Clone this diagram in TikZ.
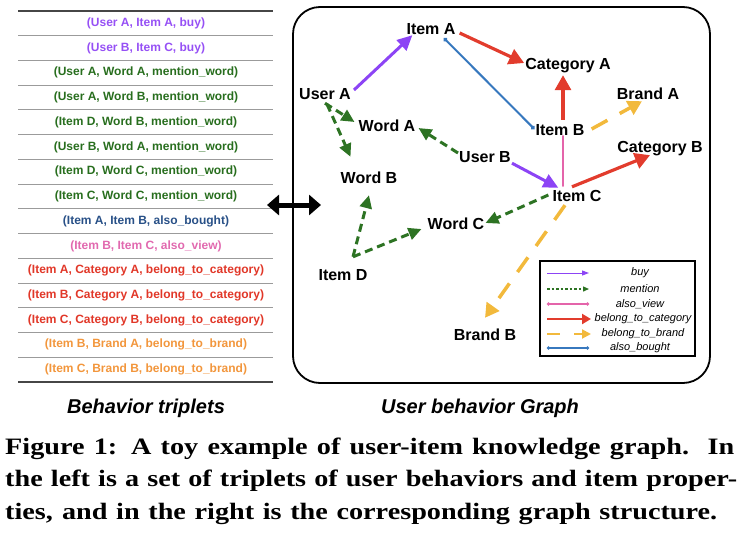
\documentclass[tikz,border=0pt]{standalone}
\usepackage{fontspec}
\setmainfont{Liberation Serif}
\newfontfamily\capfont[FakeStretch=1.2]{Liberation Serif}
\newfontfamily\hv{Liberation Sans}
\usetikzlibrary{arrows.meta}
\definecolor{cpur}{RGB}{140,68,245}
\definecolor{tpur}{RGB}{150,80,245}
\definecolor{cgrn}{RGB}{45,115,35}
\definecolor{tgrn}{RGB}{40,110,30}
\definecolor{cblu}{RGB}{55,120,190}
\definecolor{tblu}{RGB}{40,80,135}
\definecolor{cpnk}{RGB}{228,100,170}
\definecolor{tpnk}{RGB}{225,105,175}
\definecolor{cred}{RGB}{226,60,45}
\definecolor{tred}{RGB}{225,55,40}
\definecolor{corg}{RGB}{242,185,60}
\definecolor{torg}{RGB}{242,150,60}
\definecolor{tline}{RGB}{155,155,155}
\definecolor{tdark}{RGB}{70,70,70}
\begin{document}
\begin{tikzpicture}[x=1pt,y=-1pt,
  gnode/.style={font=\hv\bfseries\fontsize{16}{16}\selectfont, inner sep=1pt, text height=12pt, text depth=0pt},
  trow/.style={font=\hv\bfseries\fontsize{12}{12}\selectfont, inner sep=0pt},
  buyE/.style={cpur, line width=3pt, -{Triangle[length=15pt,width=14pt]}},
  menE/.style={cgrn, line width=3pt, dash pattern=on 8pt off 5pt, -{Triangle[length=13pt,width=12pt]}},
  catE/.style={cred, line width=3.2pt, -{Triangle[length=15pt,width=16pt]}},
  brdE/.style={corg, line width=3.5pt, dash pattern=on 18pt off 14pt, -{Triangle[length=14pt,width=15pt]}},
  viewE/.style={cpnk, line width=2.6pt, line cap=round},
  boughtE/.style={cblu, line width=2pt, {Circle[length=4pt]}-{Circle[length=4pt]}},
  lgtxt/.style={font=\hv\itshape\fontsize{11}{11}\selectfont, inner sep=0pt},
  subcap/.style={font=\hv\bfseries\itshape\fontsize{20}{20}\selectfont, inner sep=0pt},
  capline/.style={font=\capfont\bfseries\fontsize{23.5}{23.5}\selectfont, inner sep=0pt, anchor=base west},
  tsep/.style={tline, line width=0.9pt},
  tbord/.style={tdark, line width=1.8pt}
]
\useasboundingbox (0,0) rectangle (747,533);

% ---- table of triplets ----
\draw[tbord] (18,11) -- (273,11);
\foreach \k in {1,...,14} \draw[tsep] (18,11+\k*24.73) -- (273,11+\k*24.73);
\draw[tbord] (18,382) -- (273,382);
\node[trow, tpur] (r1) at (146,23.4) {(User A, Item A, buy)};
\node[trow, tpur] (r2) at (146,48.1) {(User B, Item C, buy)};
\node[trow, tgrn] (r3) at (146,72.8) {(User A, Word A, mention\_word)};
\node[trow, tgrn] (r4) at (146,97.6) {(User A, Word B, mention\_word)};
\node[trow, tgrn] (r5) at (146,122.3) {(Item D, Word B, mention\_word)};
\node[trow, tgrn] (r6) at (146,147.0) {(User B, Word A, mention\_word)};
\node[trow, tgrn] (r7) at (146,171.8) {(Item D, Word C, mention\_word)};
\node[trow, tgrn] (r8) at (146,196.5) {(Item C, Word C, mention\_word)};
\node[trow, tblu] (r9) at (146,221.2) {(Item A, Item B, also\_bought)};
\node[trow, tpnk] (r10) at (146,245.9) {(Item B, Item C, also\_view)};
\node[trow, tred] (r11) at (146,270.7) {(Item A, Category A, belong\_to\_category)};
\node[trow, tred] (r12) at (146,295.4) {(Item B, Category A, belong\_to\_category)};
\node[trow, tred] (r13) at (146,320.1) {(Item C, Category B, belong\_to\_category)};
\node[trow, torg] (r14) at (146,344.9) {(Item B, Brand A, belong\_to\_brand)};
\node[trow, torg] (r15) at (146,369.6) {(Item C, Brand B, belong\_to\_brand)};

% ---- double arrow ----
\coordinate (dl) at (267,205);
\coordinate (dr) at (321,205);
\draw[black, line width=5pt, {Triangle[length=12pt,width=20pt]}-{Triangle[length=12pt,width=20pt]}] (dl) -- (dr);

% ---- graph frame ----
\draw[black, line width=1.8pt, rounded corners=27pt] (293,7) rectangle (710,383);

% ---- graph nodes ----
\node[gnode] (iA) at (431,28) {Item A};
\node[gnode] (cA) at (568,63) {Category A};
\node[gnode] (bA) at (648,93) {Brand A};
\node[gnode] (uA) at (325,93) {User A};
\node[gnode] (wA) at (387,125) {Word A};
\node[gnode] (iB) at (560,129) {Item B};
\node[gnode] (cB) at (660,146) {Category B};
\node[gnode] (uB) at (485,156) {User B};
\node[gnode] (wB) at (369,177) {Word B};
\node[gnode] (iC) at (577,195) {Item C};
\node[gnode] (wC) at (456,223) {Word C};
\node[gnode] (iD) at (343,274) {Item D};
\node[gnode] (bB) at (485,334) {Brand B};

% ---- graph edges ----
\draw[buyE] ([xshift=2pt,yshift=3pt]uA.east) -- ([xshift=7pt]iA.south west);
\draw[catE] ([xshift=3pt,yshift=-5pt]iA.east) -- (cA.west);
\draw[boughtE] ([xshift=13pt,yshift=-3pt]iA.south) -- (iB.west);
\draw[catE] ([xshift=3pt,yshift=2pt]iB.north) -- ([xshift=-5pt,yshift=-5pt]cA.south);
\draw[brdE] ([xshift=6pt]iB.east) -- ([xshift=-6pt,yshift=-1pt]bA.south);
\draw[menE] ([yshift=-3pt]uA.south) -- ([xshift=-3pt,yshift=3pt]wA.west);
\draw[menE] ([xshift=2pt,yshift=-4pt]uA.south) -- ([xshift=11pt,yshift=13pt]wB.north west);
\draw[menE] ([yshift=3pt]uB.west) -- ([xshift=2pt,yshift=-3pt]wA.east);
\draw[buyE] (uB.south east) -- ([xshift=7pt]iC.north west);
\draw[viewE] ([xshift=3pt]iB.south) -- ([xshift=-14pt,yshift=2pt]iC.north);
\draw[catE] ([xshift=-5pt,yshift=1pt]iC.north) -- ([xshift=-10pt,yshift=-2pt]cB.south);
\draw[menE] ([xshift=-3pt]iC.west) -- (wC.east);
\draw[brdE] ([xshift=-12pt,yshift=-3pt]iC.south) -- ([yshift=9pt]bB.north);
\coordinate (d0) at ([xshift=10pt,yshift=10pt]iD.north);
\draw[menE] (d0) -- ([yshift=-11pt]wB.south);
\draw[menE] (d0) -- ([xshift=-5pt,yshift=-6pt]wC.west);

% ---- legend ----
\draw[black, line width=1.8pt] (540,261) rectangle (695,356);
\node[lgtxt] (l1) at (640,273) {buy};
\node[lgtxt] (l2) at (640,289) {mention};
\node[lgtxt] (l3) at (640,304) {also\_view};
\node[lgtxt] (l4) at (643,319) {belong\_to\_category};
\node[lgtxt] (l5) at (643,334) {belong\_to\_brand};
\node[lgtxt] (l6) at (640,348) {also\_bought};
\draw[cpur, line width=1pt, -{Triangle[length=7pt,width=5pt]}] (547,273) -- (589,273);
\draw[cgrn, line width=1.3pt, dash pattern=on 2.5pt off 2pt, -{Triangle[length=6pt,width=5pt]}] (547,289) -- (589,289);
\draw[cpnk, line width=2pt, {Circle[length=3pt]}-{Circle[length=3pt]}] (547,304) -- (589,304);
\draw[cred, line width=2.5pt, -{Triangle[length=9pt,width=10pt]}] (547,319) -- (591,319);
\draw[corg, line width=2pt, dash pattern=on 13pt off 14pt, -{Triangle[length=9pt,width=9pt]}] (547,334) -- (591,334);
\draw[cblu, line width=2pt, {Circle[length=3pt]}-{Circle[length=3pt]}] (547,348) -- (589,348);

% ---- sub captions ----
\node[subcap] (s1) at (146,408) {Behavior triplets};
\node[subcap] (s2) at (480,408) {User behavior Graph};

% ---- figure caption ----
\node[capline] (c1) at (5,454) {\makebox[729pt][s]{Figure 1: A toy example of user-item knowledge graph.\ \ In}};
\node[capline] (c2) at (5,486) {\makebox[732pt][s]{the left is a set of triplets of user behaviors and item proper-}};
\node[capline] (c3) at (5,519) {\makebox[712pt][s]{ties, and in the right is the corresponding graph structure.}};
\end{tikzpicture}
\end{document}
